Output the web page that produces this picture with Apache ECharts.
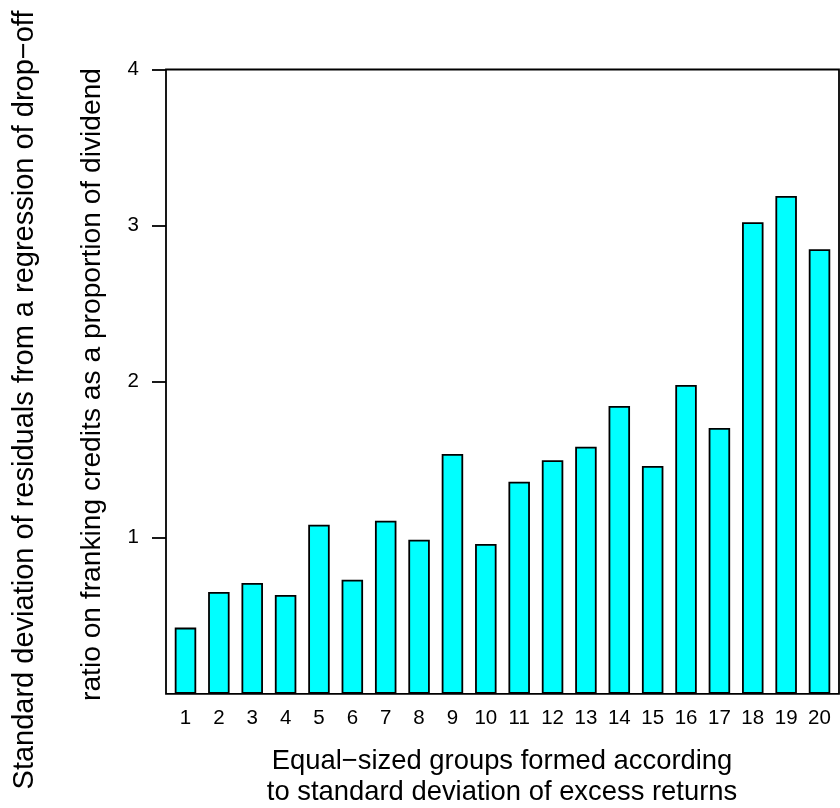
<!DOCTYPE html>
<html>
<head>
<meta charset="utf-8">
<title>Drop-off ratio dispersion by volatility group</title>
<script src="https://cdn.jsdelivr.net/npm/echarts@6/dist/echarts.min.js"></script>
<style>
  html, body { margin: 0; padding: 0; background: #ffffff; }
  #chart { width: 840px; height: 808px; }
</style>
</head>
<body>
<div id="chart"></div>
<script>
// Groups 1..20, sorted by standard deviation of excess returns
const groups = ['1','2','3','4','5','6','7','8','9','10','11','12','13','14','15','16','17','18','19','20'];

// Standard deviation of regression residuals for each group
const residualSD = [0.424, 0.652, 0.710, 0.633, 1.083, 0.731, 1.109, 0.987, 1.536, 0.960,
                    1.359, 1.496, 1.583, 1.844, 1.460, 1.979, 1.703, 3.021, 3.190, 2.848];

// Labelled y ticks
const yTicks = [1, 2, 3, 4];

const xTitleLines = ['Equal\u2212sized groups formed according', 'to standard deviation of excess returns'];
const yTitleOuter = 'Standard deviation of residuals from a regression of drop\u2212off';
const yTitleInner = 'ratio on franking credits as a proportion of dividend';

const FONT = '"Liberation Sans", Arial, Helvetica, sans-serif';
const chart = echarts.init(document.getElementById('chart'), null, { renderer: 'canvas' });

const plotTop = 69.5, plotBottom = 114.2;

chart.setOption({
  animation: false,
  backgroundColor: '#ffffff',
  grid: [
    // frame around the plotting region
    { left: 166, right: 1, top: plotTop, bottom: plotBottom, show: true,
      borderColor: '#000000', borderWidth: 1.8, backgroundColor: 'transparent' },
    // region holding the bars
    { left: 168.8, right: 3.8, top: plotTop, bottom: plotBottom }
  ],
  xAxis: [
    { gridIndex: 0, type: 'value', min: 0, max: 1, show: false },
    { gridIndex: 1, type: 'category', data: groups, boundaryGap: true,
      axisLine: { show: false }, axisTick: { show: false }, splitLine: { show: false },
      axisLabel: { interval: 0, margin: 14, color: '#000000', fontSize: 20.5, fontFamily: FONT } }
  ],
  yAxis: [
    { gridIndex: 0, type: 'value', min: 0, max: 4, interval: 1,
      axisLine: { show: false }, splitLine: { show: false },
      axisTick: { show: true, length: 14, customValues: yTicks,
                  lineStyle: { color: '#000000', width: 1.8 } },
      axisLabel: { customValues: yTicks, margin: 27, color: '#000000', fontSize: 20.5, fontFamily: FONT } },
    { gridIndex: 1, type: 'value', min: 0, max: 4, interval: 1, show: false }
  ],
  series: [{
    type: 'bar',
    xAxisIndex: 1,
    yAxisIndex: 1,
    data: residualSD,
    barWidth: 21.5,
    itemStyle: { color: '#00ffff', borderColor: '#000000', borderWidth: 1.8 },
    silent: true
  }],
  graphic: [
    { type: 'text', x: 502, y: 761, style: { text: xTitleLines[0], fontSize: 27.4, fontFamily: FONT,
      fill: '#000000', align: 'center', verticalAlign: 'middle' } },
    { type: 'text', x: 502, y: 792, style: { text: xTitleLines[1], fontSize: 27.4, fontFamily: FONT,
      fill: '#000000', align: 'center', verticalAlign: 'middle' } },
    { type: 'text', x: 25, y: 400, rotation: Math.PI / 2, style: { text: yTitleOuter, fontSize: 29,
      fontFamily: FONT, fill: '#000000', align: 'center', verticalAlign: 'middle' } },
    { type: 'text', x: 92, y: 384.5, rotation: Math.PI / 2, style: { text: yTitleInner, fontSize: 28.2,
      fontFamily: FONT, fill: '#000000', align: 'center', verticalAlign: 'middle' } }
  ]
});
</script>
</body>
</html>
